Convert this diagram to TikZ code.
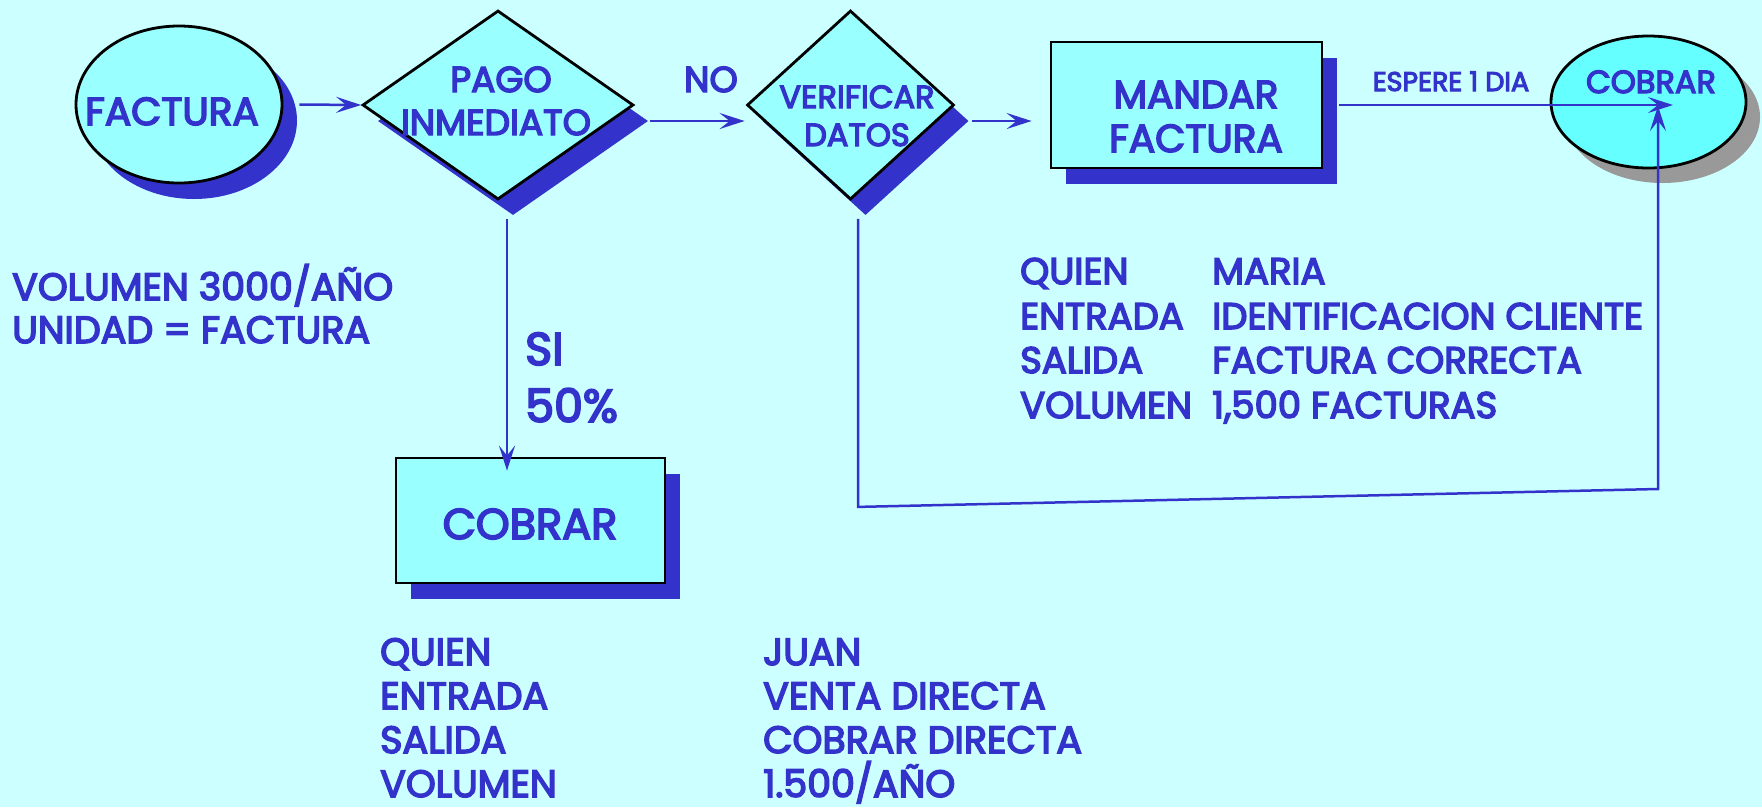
\documentclass[tikz,border=0pt]{standalone}
\usepackage{fontspec}
\newfontfamily\popf{Poppins}[FakeBold=4]
\usetikzlibrary{shapes.geometric,shadows,arrows.meta,calc}
\definecolor{bg}{HTML}{CCFFFF}
\definecolor{fillc}{HTML}{99FFFF}
\definecolor{fillc2}{HTML}{66FFFF}
\definecolor{ink}{HTML}{3333CC}
\definecolor{shgray}{HTML}{999999}
\begin{document}
\begin{tikzpicture}[x=1pt,y=-1pt,
  shp/.style={draw=black, line width=2.8pt, fill=fillc, inner sep=0pt},
  bsh/.style={general shadow={fill=ink, shadow xshift=15pt, shadow yshift=-16pt}},
  gsh/.style={general shadow={fill=shgray, shadow xshift=14pt, shadow yshift=-15pt}},
  txt/.style={text=ink, inner sep=0pt, text depth=0pt, font=\popf\fontsize{#1}{#1}\selectfont},
  conn/.style={draw=ink, line width=2.5pt, -{Stealth[length=25pt,width=16pt,inset=10pt]}},
]
\fill[bg] (0,0) rectangle (1762,807);
\useasboundingbox (0,0) rectangle (1762,807);

% shapes
\node[shp, ellipse, bsh, minimum width=206pt, minimum height=157pt] (factura) at (179,104.5) {};
\node[shp, diamond, bsh, minimum width=271pt, minimum height=189pt] (pago) at (498,105) {};
\node[shp, diamond, bsh, minimum width=207pt, minimum height=189pt] (verif) at (850.5,105) {};
\node[shp, rectangle, bsh, minimum width=271pt, minimum height=126pt] (mandar) at (1186.5,105) {};
\node[shp, ellipse, gsh, fill=fillc2, minimum width=195pt, minimum height=132pt] (cobrarE) at (1648.5,102) {};
\node[shp, rectangle, bsh, minimum width=269pt, minimum height=125pt] (cobrarB) at (530.5,520.5) {};

% connectors
\coordinate (cobTip) at (1673,105);
\coordinate (cobTip2) at (1658,106);
\coordinate (loopR) at (1658,489);
\draw[conn] ($(factura.east)+(16,0)$) -- (pago.west);
\draw[conn] ($(pago.east)+(15,16)$) -- ($(verif.west)+(-1,16)$);
\draw[conn] ($(verif.east)+(17,16)$) -- ($(mandar.west)+(-18,16)$);
\draw[conn] ($(mandar.east)+(16,0)$) -- (cobTip);
\draw[conn] ($(pago.south)+(9,18)$) -- ($(cobrarB.north)+(-23.5,14)$);
\draw[conn] ($(verif.south)+(7.5,18)$) -- ++(0,288) -- (loopR) -- (cobTip2);

% texts
\node[txt=39, anchor=base] (tFact) at (172,125) {FACTURA};
\node[txt=36, anchor=base] (tPago1) at (501,92) {PAGO};
\node[txt=36, anchor=base] (tPago2) at (496,135) {INMEDIATO};
\node[txt=36, anchor=base] (tNo) at (711,92) {NO};
\node[txt=32, anchor=base] (tVer1) at (857,108) {VERIFICAR};
\node[txt=32, anchor=base] (tVer2) at (857,146) {DATOS};
\node[txt=39, anchor=base] (tMan1) at (1196,108) {MANDAR};
\node[txt=39, anchor=base] (tMan2) at (1196,152) {FACTURA};
\node[txt=27, anchor=base] (tEsp) at (1451,91) {ESPERE 1 DIA};
\node[txt=32, anchor=base] (tCobE) at (1651,93) {COBRAR};
\node[txt=43, anchor=base] (tCobB) at (530,539) {COBRAR};
\node[txt=46, anchor=base west] (tSi) at (525,365) {SI};
\node[txt=46, anchor=base west] (t50) at (525,422) {50\%};
\node[txt=38, anchor=base west] (tVol) at (12,300) {VOLUMEN 3000/AÑO};
\node[txt=38, anchor=base west] (tUni) at (12,343) {UNIDAD = FACTURA};

\node[txt=37, anchor=base west] (r1a) at (1020,284) {QUIEN};
\node[txt=37, anchor=base west] (r2a) at (1020,329) {ENTRADA};
\node[txt=37, anchor=base west] (r3a) at (1020,373) {SALIDA};
\node[txt=37, anchor=base west] (r4a) at (1020,418) {VOLUMEN};
\node[txt=37, anchor=base west] (r1b) at (1212,284) {MARIA};
\node[txt=37, anchor=base west] (r2b) at (1212,329) {IDENTIFICACION CLIENTE};
\node[txt=37, anchor=base west] (r3b) at (1212,373) {FACTURA CORRECTA};
\node[txt=37, anchor=base west] (r4b) at (1212,418) {1,500 FACTURAS};

\node[txt=38, anchor=base west] (b1a) at (380,665) {QUIEN};
\node[txt=38, anchor=base west] (b2a) at (380,709) {ENTRADA};
\node[txt=38, anchor=base west] (b3a) at (380,753) {SALIDA};
\node[txt=38, anchor=base west] (b4a) at (380,797) {VOLUMEN};
\node[txt=38, anchor=base west] (b1b) at (763,665) {JUAN};
\node[txt=38, anchor=base west] (b2b) at (763,709) {VENTA DIRECTA};
\node[txt=38, anchor=base west] (b3b) at (763,753) {COBRAR DIRECTA};
\node[txt=38, anchor=base west] (b4b) at (763,797) {1.500/AÑO};
\end{tikzpicture}
\end{document}
